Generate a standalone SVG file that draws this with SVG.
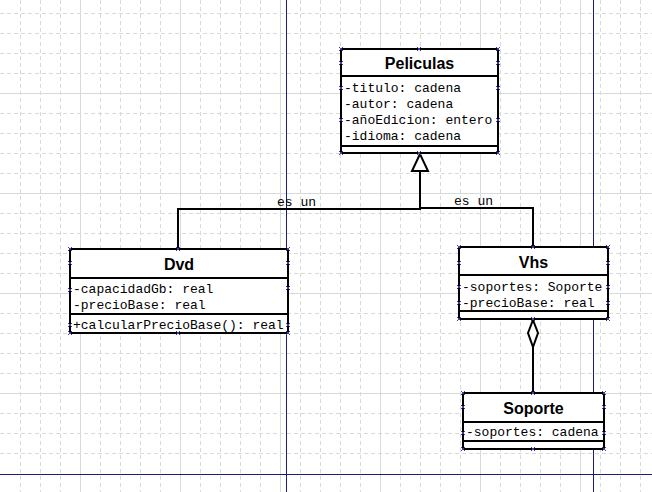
<svg xmlns="http://www.w3.org/2000/svg" xmlns:xlink="http://www.w3.org/1999/xlink" width="652" height="492" viewBox="0 0 652 492">
<style>
.gd{stroke:#d4dbdb;stroke-width:1;stroke-dasharray:4 3;fill:none}
.gs{stroke:#d4dbdb;stroke-width:1;fill:none}
.bl{stroke:#1c1c78;stroke-width:1;fill:none}
.box{fill:#fff;stroke:#000;stroke-width:2}
.sep{stroke:#000;stroke-width:2;fill:none}
.ln{stroke:#000;stroke-width:2;fill:none}
.t{font-family:"Liberation Sans",Arial,sans-serif;font-weight:bold;font-size:16px;fill:#000;text-anchor:middle}
.a{font-family:"Liberation Mono","Courier New",monospace;font-size:13px;fill:#000}
.h{stroke:#3a3aa8;stroke-width:1;fill:none}
</style>
<defs>
<path id="hx" class="h" d="M-2,-2L2,2M2,-2L-2,2"/>
</defs>
<rect width="652" height="492" fill="#fff"/>
<g id="grid">
<path class="gd" d="M20.5,0V492M40.5,0V492M60.5,0V492M100.5,0V492M120.5,0V492M140.5,0V492M160.5,0V492M200.5,0V492M220.5,0V492M240.5,0V492M260.5,0V492M300.5,0V492M320.5,0V492M340.5,0V492M360.5,0V492M400.5,0V492M420.5,0V492M440.5,0V492M460.5,0V492M500.5,0V492M520.5,0V492M540.5,0V492M560.5,0V492M600.5,0V492M620.5,0V492M640.5,0V492"/>
<path class="gd" d="M0,13.5H652M0,33.5H652M0,53.5H652M0,73.5H652M0,113.5H652M0,133.5H652M0,153.5H652M0,173.5H652M0,213.5H652M0,233.5H652M0,253.5H652M0,273.5H652M0,313.5H652M0,333.5H652M0,353.5H652M0,373.5H652M0,413.5H652M0,433.5H652M0,453.5H652"/>
<path class="gs" d="M80.5,0V492M180.5,0V492M280.5,0V492M380.5,0V492M480.5,0V492M580.5,0V492M0,93.5H652M0,193.5H652M0,293.5H652M0,393.5H652"/>
<path class="bl" d="M286.5,0V492M593.5,0V492M0,474.5H652"/>
</g>
<g id="connectors">
<polyline class="ln" points="420,171 420,209 178,209 178,249"/>
<polyline class="ln" points="420,208 533,208 533,247"/>
<polygon class="box" points="420,154 412,171 428,171"/>
<text class="a" x="277" y="206">es un</text>
<text class="a" x="454" y="205">es un</text>
<line class="ln" x1="533" y1="347" x2="533" y2="393"/>
<polygon class="box" points="533,320 538,333 533,347 528,333"/>
</g>
<g id="Peliculas">
<rect class="box" x="341" y="49" width="157" height="104"/>
<path class="sep" d="M341,76H498M341,146H498"/>
<text class="t" x="419.5" y="69">Peliculas</text>
<text class="a" x="344" y="92">-titulo: cadena</text>
<text class="a" x="344" y="108">-autor: cadena</text>
<text class="a" x="344" y="124">-añoEdicion: entero</text>
<text class="a" x="344" y="140">-idioma: cadena</text>
</g>
<g id="Dvd">
<rect class="box" x="70" y="249" width="218" height="84"/>
<path class="sep" d="M70,278H288M70,314H288"/>
<text class="t" x="179" y="270">Dvd</text>
<text class="a" x="73" y="293">-capacidadGb: real</text>
<text class="a" x="73" y="309">-precioBase: real</text>
<text class="a" x="73" y="329">+calcularPrecioBase(): real</text>
</g>
<g id="Vhs">
<rect class="box" x="459" y="247" width="149" height="72"/>
<path class="sep" d="M459,275H608M459,311H608"/>
<text class="t" x="533.5" y="268">Vhs</text>
<text class="a" x="462" y="291">-soportes: Soporte</text>
<text class="a" x="462" y="307">-precioBase: real</text>
</g>
<g id="Soporte">
<rect class="box" x="463" y="393" width="141" height="56"/>
<path class="sep" d="M463,422H604M463,441H604"/>
<text class="t" x="533.5" y="414">Soporte</text>
<text class="a" x="466" y="436">-soportes: cadena</text>
</g>
<g id="handles">
<use xlink:href="#hx" x="341" y="49"/><use xlink:href="#hx" x="419" y="49"/><use xlink:href="#hx" x="498" y="49"/>
<use xlink:href="#hx" x="341" y="63"/><use xlink:href="#hx" x="498" y="63"/>
<use xlink:href="#hx" x="341" y="88"/><use xlink:href="#hx" x="498" y="88"/>
<use xlink:href="#hx" x="341" y="120"/><use xlink:href="#hx" x="498" y="120"/>
<use xlink:href="#hx" x="341" y="153"/><use xlink:href="#hx" x="419" y="153"/><use xlink:href="#hx" x="498" y="153"/>
<use xlink:href="#hx" x="70" y="249"/><use xlink:href="#hx" x="178" y="249"/><use xlink:href="#hx" x="288" y="249"/>
<use xlink:href="#hx" x="70" y="263"/><use xlink:href="#hx" x="288" y="263"/>
<use xlink:href="#hx" x="70" y="290"/><use xlink:href="#hx" x="288" y="288"/>
<use xlink:href="#hx" x="70" y="325"/><use xlink:href="#hx" x="288" y="325"/>
<use xlink:href="#hx" x="70" y="333"/><use xlink:href="#hx" x="178" y="333"/><use xlink:href="#hx" x="288" y="333"/>
<use xlink:href="#hx" x="459" y="247"/><use xlink:href="#hx" x="533" y="247"/><use xlink:href="#hx" x="608" y="247"/>
<use xlink:href="#hx" x="459" y="263"/><use xlink:href="#hx" x="608" y="263"/>
<use xlink:href="#hx" x="459" y="287"/><use xlink:href="#hx" x="608" y="287"/>
<use xlink:href="#hx" x="459" y="303"/><use xlink:href="#hx" x="608" y="303"/>
<use xlink:href="#hx" x="459" y="319"/><use xlink:href="#hx" x="533" y="319"/><use xlink:href="#hx" x="608" y="319"/>
<use xlink:href="#hx" x="463" y="393"/><use xlink:href="#hx" x="533" y="393"/><use xlink:href="#hx" x="604" y="393"/>
<use xlink:href="#hx" x="463" y="407"/><use xlink:href="#hx" x="604" y="407"/>
<use xlink:href="#hx" x="463" y="433"/><use xlink:href="#hx" x="604" y="433"/>
<use xlink:href="#hx" x="463" y="449"/><use xlink:href="#hx" x="533" y="449"/><use xlink:href="#hx" x="604" y="449"/>
</g>
</svg>
